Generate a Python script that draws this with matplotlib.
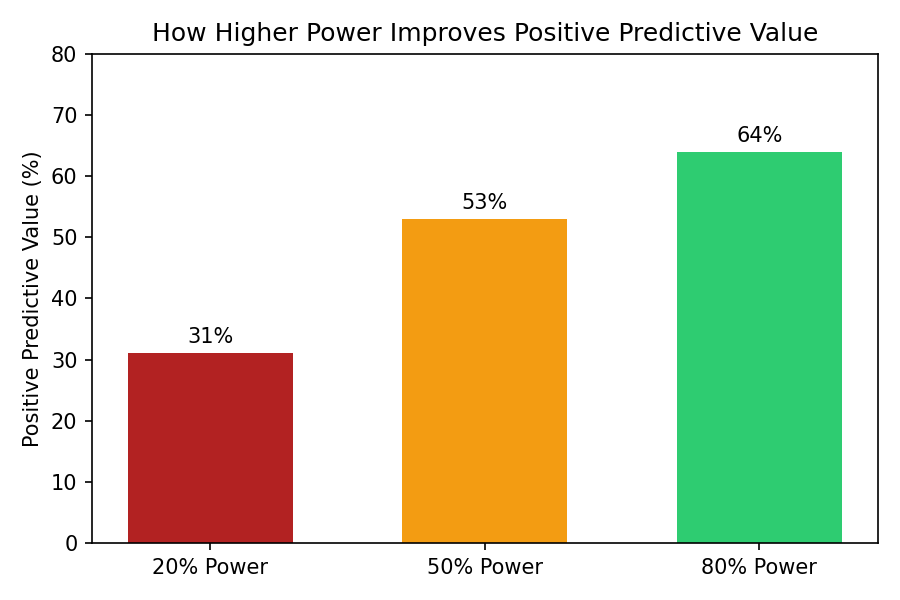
import matplotlib.pyplot as plt
import numpy as np

labels = ['20% Power', '50% Power', '80% Power']
ppv = [31, 53, 64]
colors = ['#B22222', '#F39C12', '#2ECC71']

fig, ax = plt.subplots(figsize=(6, 4), dpi=150)
index = np.arange(len(labels))
bars = ax.bar(index, ppv, width=0.6, color=colors)

for bar, val in zip(bars, ppv):
    ax.text(bar.get_x() + bar.get_width() / 2, val + 1, '%d%%' % val,
            ha='center', va='bottom', fontsize=10)

ax.set_xticks(index)
ax.set_xticklabels(labels)
ax.set_ylim(0, 80)
ax.set_ylabel('Positive Predictive Value (%)')
ax.set_title('How Higher Power Improves Positive Predictive Value', fontsize=12)

plt.tight_layout()
plt.savefig('out.png')
